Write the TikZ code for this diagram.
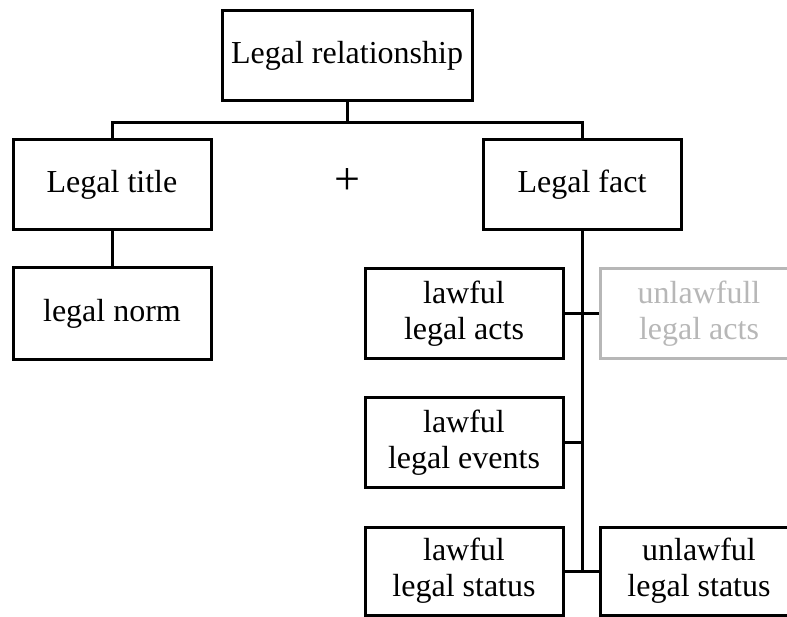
\documentclass[tikz,border=0pt]{standalone}
\usepackage{fontspec}
\setmainfont{Liberation Serif}
\definecolor{faded}{RGB}{183,183,183}
\begin{document}
\begin{tikzpicture}[x=1pt,y=-1pt,
  box/.style={draw,line width=3pt,minimum width=198pt,minimum height=90pt,
    align=center,inner sep=0pt,font=\fontsize{32}{36}\selectfont},
  wide/.style={box,minimum width=250pt},
  faint/.style={box,draw=faded,text=faded},
  link/.style={line width=3pt}]
\useasboundingbox (0,0) rectangle (787,617);
\clip (0,0) rectangle (787,617);

% top level
\node[wide] (rel) at (347,56) {Legal relationship};
\node[box] (title) at (112,185) {Legal title};
\node[box] (fact) at (582,185) {Legal fact};
\node[font=\fontsize{46}{50}\selectfont,inner sep=0pt] (plus) at (347,182) {+};

% left branch
\node[box,minimum height=92pt] (norm) at (112,314) {legal norm};

% right branch
\node[box] (acts) at (464,313.5) {lawful\\legal acts};
\node[faint] (unacts) at (699,313.5) {unlawfull\\legal acts};
\node[box] (events) at (464,442.5) {lawful\\legal events};
\node[box,minimum height=88pt] (status) at (464,571) {lawful\\legal status};
\node[box,minimum height=88pt] (unstatus) at (699,571) {unlawful\\legal status};

% connectors
\draw[link] (rel.south) -- ++(0,20) coordinate (split);
\draw[link] (title.north) |- (split) -| (fact.north);
\draw[link] (title.south) -- (norm.north);
\draw[link] (fact.south) -- (fact.south |- status.east) coordinate (foot);
\draw[link] (acts.east) -- (unacts.west);
\draw[link] (events.east) -- (events.east -| fact.south);
\draw[link] (status.east) -- (unstatus.west);
\end{tikzpicture}
\end{document}
